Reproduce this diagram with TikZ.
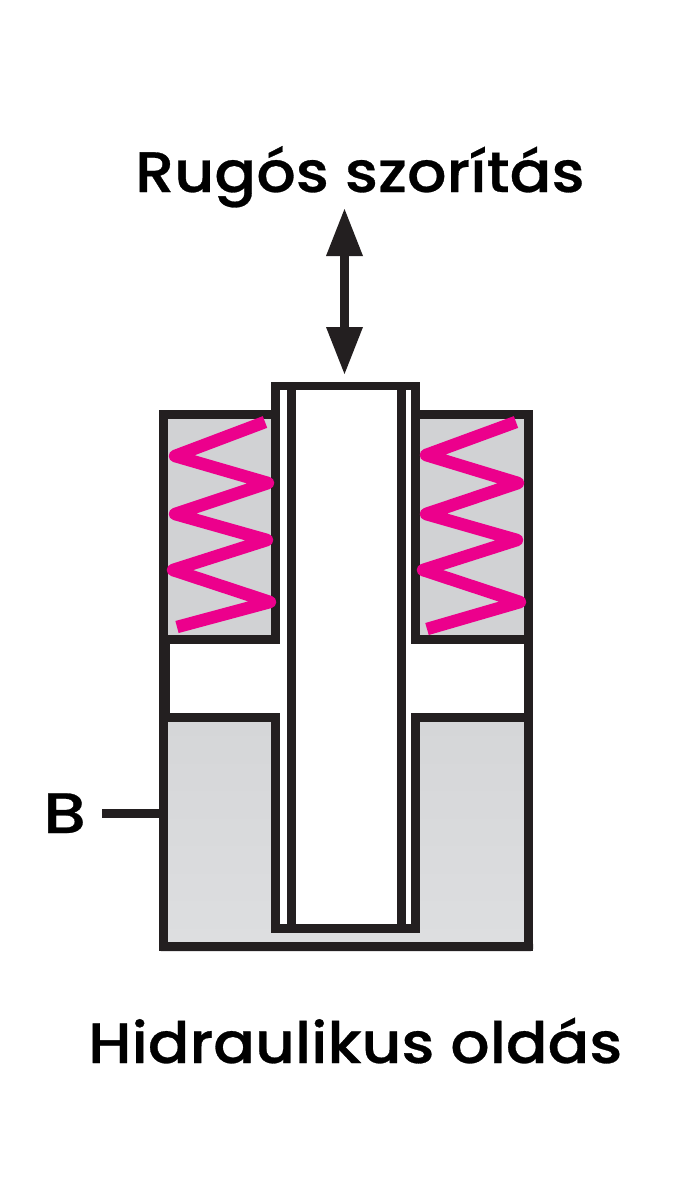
\documentclass[tikz,border=0pt]{standalone}
\usepackage{fontspec}
\setmainfont[FakeBold=0.5]{Poppins Medium}
\definecolor{dk}{HTML}{231F20}
\definecolor{grayA}{HTML}{D1D2D4}
\definecolor{grayB}{HTML}{D5D6D8}
\definecolor{grayC}{HTML}{DDDEE0}
\definecolor{pinkc}{HTML}{EC008C}
\tikzset{
  wall/.style={fill=dk,draw=none},
  springline/.style={draw=pinkc,line width=12.5pt,line join=round,line cap=butt},
  label/.style={inner sep=0pt,anchor=base west,text=black,font=\fontsize{57}{60}\selectfont},
  arrowhead/.style={fill=dk,draw=none}
}
\begin{document}
\begin{tikzpicture}[x=1pt,y=-1pt]
\useasboundingbox (0,0) rectangle (697,1191);
\fill[white] (0,0) rectangle (697,1191);
% grey chambers
\fill[grayA] (168,419) rectangle (271,635);
\fill[grayA] (420,419) rectangle (524,635);
\shade[top color=grayB,bottom color=grayC,draw=none] (168,722) rectangle (524,942);
\fill[white] (280,700) rectangle (411,924);
% housing
\fill[wall] (159,410) rectangle (280,419);
\fill[wall] (411,410) rectangle (533,419);
\fill[wall] (159,410) rectangle (168,644);
\fill[wall] (524,410) rectangle (533,644);
\fill[wall] (271,382) rectangle (280,644);
\fill[wall] (411,382) rectangle (420,644);
\fill[wall] (159,635) rectangle (280,644);
\fill[wall] (411,635) rectangle (533,644);
\fill[wall] (159,644) rectangle (170,722);
\fill[wall] (524,644) rectangle (533,722);
\fill[wall] (159,713) rectangle (280,722);
\fill[wall] (411,713) rectangle (533,722);
\fill[wall] (271,713) rectangle (280,933);
\fill[wall] (411,713) rectangle (420,933);
\fill[wall] (159,722) rectangle (168,951);
\fill[wall] (524,722) rectangle (533,951);
\fill[wall,rounded corners=2pt] (159,942) rectangle (533,951);
% rod
\fill[wall] (272,382) rectangle (419,390);
\fill[wall] (271,924) rectangle (420,933);
\fill[wall] (287,382) rectangle (296,933);
\fill[wall] (397,382) rectangle (406,933);
% springs
\draw[springline] (265,422) -- (175,456) -- (268,483) -- (175,514) -- (267,540) -- (173,570) -- (270,602) -- (177,627);
\draw[springline] (516,422) -- (426,455) -- (518,483) -- (426,514) -- (517,540) -- (423,570) -- (520,602) -- (427,629);
% arrow
\fill[arrowhead] (344.5,209) -- (363,256) -- (326,256) -- cycle;
\fill[arrowhead] (344.5,374) -- (363,327) -- (326,327) -- cycle;
\fill[wall] (340,256) rectangle (349,327);
% labels
\node[label,xscale=1.085] (top) at (135,192) {Rugós szorítás};
\node[label,xscale=1.08] (bottom) at (88,1063) {Hidraulikus oldás};
\node[label,xscale=1.19] (b) at (43,833) {B};
\coordinate (bwall) at (159,813.5);
\draw[dk,line width=9pt] (102,813.5) -- (bwall);
\end{tikzpicture}
\end{document}
